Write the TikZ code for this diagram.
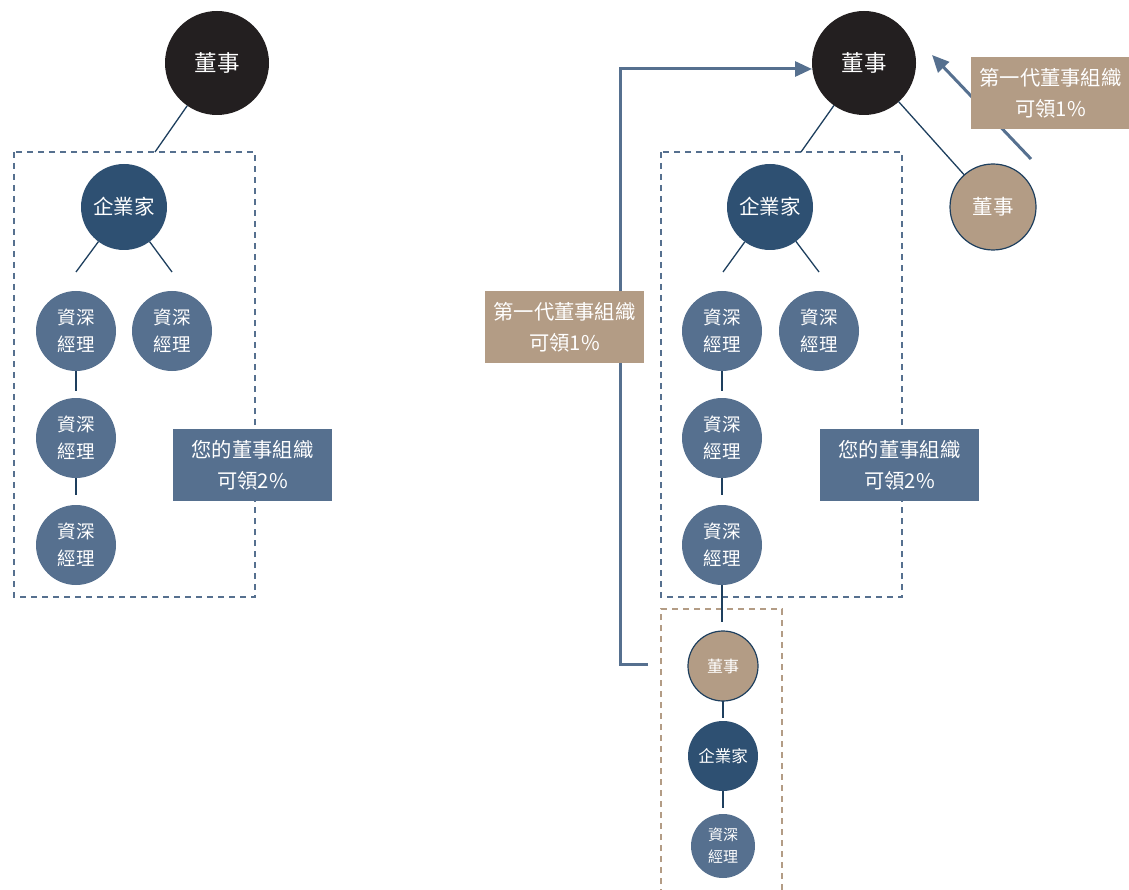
\documentclass[tikz,border=0pt]{standalone}
\usepackage{fontspec}
\setmainfont{Noto Sans CJK TC}
\usetikzlibrary{arrows.meta}
\definecolor{cblack}{HTML}{231F20}
\definecolor{cent}{HTML}{2E5072}
\definecolor{cmgr}{HTML}{56708F}
\definecolor{ctan}{HTML}{B39C85}
\definecolor{cline}{HTML}{1E3F5E}
\tikzset{
  every node/.style={inner sep=0pt, outer sep=0pt, text=white, align=center},
  boss/.style={circle, fill=cblack, minimum size=104pt, font=\fontsize{22.5}{26}\selectfont},
  ent/.style={circle, fill=cent, minimum size=86pt, font=\fontsize{20.5}{24}\selectfont},
  mgr/.style={circle, fill=cmgr, minimum size=80pt, font=\fontsize{18.5}{27}\selectfont},
  tanboss/.style={circle, fill=ctan, draw=cline, line width=1.2pt, minimum size=86pt, font=\fontsize{20.5}{24}\selectfont},
  sboss/.style={circle, fill=ctan, draw=cline, line width=1.2pt, minimum size=70pt, font=\fontsize{16}{20}\selectfont},
  sent/.style={circle, fill=cent, minimum size=70pt, font=\fontsize{16.5}{20}\selectfont},
  smgr/.style={circle, fill=cmgr, minimum size=64pt, font=\fontsize{15}{22}\selectfont},
  conn/.style={draw=cline, line width=1.3pt},
  bluebox/.style={draw=cmgr, line width=1.8pt, dash pattern=on 6pt off 5pt},
  tanbox/.style={draw=ctan, line width=1.8pt, dash pattern=on 6pt off 5pt},
  bluelabel/.style={rectangle, fill=cmgr, minimum width=159pt, minimum height=72pt, font=\fontsize{20.3}{31}\selectfont},
  tanlabel/.style={rectangle, fill=ctan, minimum width=159pt, minimum height=72pt, font=\fontsize{20.3}{31}\selectfont},
  flow/.style={draw=cmgr, line width=3pt, -{Triangle[length=17pt,width=15pt]}},
}
\begin{document}
\begin{tikzpicture}[x=1pt,y=-1pt]
\useasboundingbox (0,0) rectangle (1129,890);
% ---------- left tree ----------
\draw[bluebox] (14,152) rectangle (255,597);
\node[boss] (Lboss) at (217,63) {董事};
\node[ent] (Lent) at (124,207) {企業家};
\node[mgr] (Lm1) at (76,331) {資深\\經理};
\node[mgr] (Lm2) at (172,331) {資深\\經理};
\node[mgr] (Lm3) at (76,438) {資深\\經理};
\node[mgr] (Lm4) at (76,545) {資深\\經理};
\coordinate (Lbt) at (155,152);
\coordinate (Lel) at (76,272);
\coordinate (Ler) at (172,272);
\coordinate (Lg1) at (76,391);
\coordinate (Lg2) at (76,495);
\draw[conn] (Lboss) -- (Lbt);
\draw[conn] (Lent) -- (Lel);
\draw[conn] (Lent) -- (Ler);
\draw[conn] (Lm1.south) -- (Lg1);
\draw[conn] (Lm3.south) -- (Lg2);
\node[bluelabel] (Llab) at (252.5,465) {您的董事組織\\可領2\%};
% ---------- right tree ----------
\coordinate (Rstart) at (648,664);
\coordinate (Rc1) at (620,664);
\coordinate (Rc2) at (620,69);
\node[boss] (Rboss) at (864,63) {董事};
\draw[flow] (Rstart) -- (Rc1) -- (Rc2) -- (Rboss.west |- Rc2);
\node[tanlabel] (Rlab1) at (564.5,327) {第一代董事組織\\可領1\%};
\draw[bluebox] (661,152) rectangle (902,597);
\draw[tanbox] (661,895) -- (661,609) -- (782,609) -- (782,895);
\node[ent] (Rent) at (770,207) {企業家};
\node[mgr] (Rm1) at (722,331) {資深\\經理};
\node[mgr] (Rm2) at (819,331) {資深\\經理};
\node[mgr] (Rm3) at (722,438) {資深\\經理};
\node[mgr] (Rm4) at (722,545) {資深\\經理};
\node[tanboss] (Rtb) at (993,207) {董事};
\coordinate (Rbt) at (801,152);
\coordinate (Rel) at (723,272);
\coordinate (Rer) at (819,272);
\coordinate (Rg1) at (722,391);
\coordinate (Rg2) at (722,495);
\coordinate (Rg3) at (722,622);
\draw[conn] (Rboss) -- (Rbt);
\draw[conn] (Rboss) -- (Rtb);
\draw[conn] (Rent) -- (Rel);
\draw[conn] (Rent) -- (Rer);
\draw[conn] (Rm1.south) -- (Rg1);
\draw[conn] (Rm3.south) -- (Rg2);
\draw[conn] (Rm4.south) -- (Rg3);
% arrow from right side to boss
\coordinate (Rtail) at (1031,159);
\coordinate (Rtip) at (932,55);
\draw[flow] (Rtail) -- (Rtip);
\node[tanlabel] (Rlab2) at (1050.5,93.5) {第一代董事組織\\可領1\%};
\node[bluelabel] (Rlab3) at (899.5,465) {您的董事組織\\可領2\%};
% bottom chain
\node[sboss] (Bboss) at (723,666) {董事};
\node[sent] (Bent) at (723,756) {企業家};
\node[smgr] (Bmgr) at (723,846) {資深\\經理};
\coordinate (Bg1) at (723,718);
\coordinate (Bg2) at (723,808);
\draw[conn] (Bboss.south) -- (Bg1);
\draw[conn] (Bent.south) -- (Bg2);
\end{tikzpicture}
\end{document}
